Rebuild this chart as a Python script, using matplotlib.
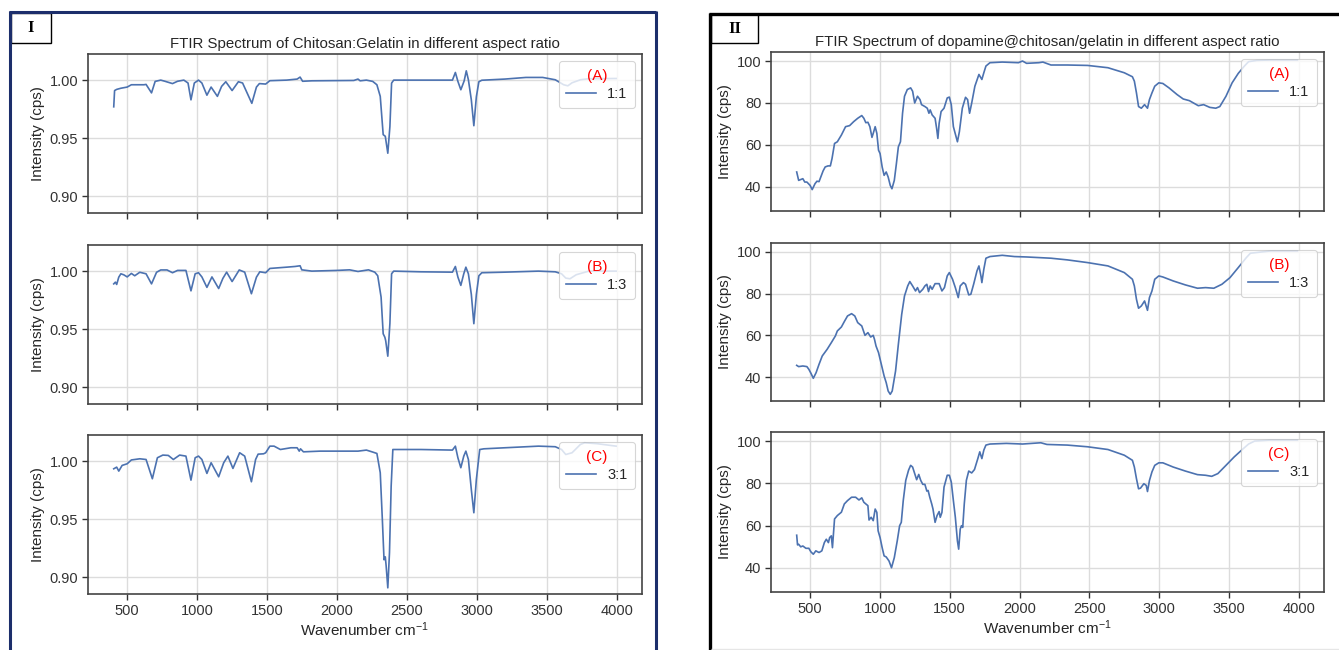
import matplotlib
matplotlib.use("Agg")
import matplotlib.pyplot as plt
from matplotlib.patches import Rectangle
from matplotlib.lines import Line2D

# ---------------- data ----------------
wavenumber_ticks = [500, 1000, 1500, 2000, 2500, 3000, 3500, 4000]
left_yticks = [0.90, 0.95, 1.00]
right_yticks = [40, 60, 80, 100]
ratio_labels = ["1:1", "1:3", "3:1"]
panel_tags = ["(A)", "(B)", "(C)"]

# Panel I : Chitosan:Gelatin
cg_A_wn = [404, 410, 425, 455, 500, 530, 620, 635, 674, 700, 740, 770, 824, 860, 905, 935, 956, 980, 1010, 1034,
           1070, 1100, 1145, 1175, 1205, 1250, 1295, 1325, 1391, 1424, 1445, 1490, 1520, 1640, 1715, 1736, 1754,
           1820, 2120, 2135, 2150, 2165, 2210, 2255, 2285, 2309, 2330, 2345, 2363, 2378, 2390, 2405, 2600, 2825,
           2846, 2864, 2885, 2909, 2924, 2939, 2960, 2978, 2996, 3014, 3035, 3200, 3350, 3470, 3560, 3620, 3650,
           3680, 3740, 3800, 3995]
cg_A_int = [0.977, 0.991, 0.992, 0.993, 0.994, 0.996, 0.996, 0.9963, 0.989, 0.9989, 1.000, 0.999, 0.997, 0.999,
            1.000, 0.9975, 0.983, 0.9975, 1.000, 0.9975, 0.987, 0.994, 0.986, 0.9946, 0.9986, 0.991, 0.9986,
            0.9975, 0.980, 0.994, 0.997, 0.9966, 0.9995, 1.000, 1.0009, 1.0026, 0.999, 0.9994, 0.9997, 1.0003,
            1.0009, 0.9994, 1.000, 0.9989, 0.996, 0.986, 0.953, 0.9516, 0.937, 0.960, 0.9974, 1.000, 1.000, 1.000,
            1.0066, 0.9989, 0.9917, 0.9994, 1.008, 1.0003, 0.983, 0.9607, 0.9857, 0.9986, 0.9999, 1.0009, 1.0023,
            1.0023, 1.0003, 0.996, 0.9951, 0.9977, 1.0003, 1.0012, 1.0014]

cg_B_wn = [404, 416, 425, 440, 455, 476, 500, 530, 554, 590, 635, 674, 710, 740, 785, 824, 860, 920, 956, 986,
           1010, 1034, 1070, 1106, 1154, 1184, 1211, 1250, 1301, 1340, 1388, 1424, 1448, 1490, 1520, 1640, 1700,
           1736, 1748, 1820, 2000, 2090, 2150, 2225, 2270, 2291, 2315, 2330, 2342, 2348, 2363, 2378, 2390, 2405,
           2600, 2825, 2846, 2864, 2885, 2906, 2921, 2939, 2960, 2978, 2996, 3014, 3035, 3200, 3440, 3560, 3605,
           3635, 3665, 3710, 3800, 3995]
cg_B_int = [0.989, 0.9905, 0.9885, 0.9948, 0.9977, 0.9968, 0.995, 0.998, 0.996, 0.999, 0.9977, 0.989, 0.999,
            1.001, 1.001, 0.9986, 1.0006, 1.0006, 0.983, 0.9977, 0.9986, 0.995, 0.986, 0.995, 0.985, 0.9937,
            0.9991, 0.991, 1.001, 0.9991, 0.9805, 0.9948, 0.9994, 0.9986, 1.0023, 1.0034, 1.004, 1.0046, 1.0011,
            1.000, 1.0006, 1.0011, 0.9997, 1.0011, 0.9991, 0.996, 0.9776, 0.946, 0.943, 0.940, 0.9267, 0.955,
            0.9977, 1.000, 0.9994, 0.9991, 1.004, 0.9949, 0.9877, 0.9977, 1.0034, 0.9977, 0.980, 0.9547, 0.980,
            0.996, 0.9986, 0.9991, 1.000, 0.9994, 0.9977, 0.994, 0.9934, 0.9969, 1.000, 1.000]

cg_C_wn = [404, 425, 440, 464, 500, 530, 590, 635, 680, 716, 755, 794, 830, 875, 920, 956, 986, 1010, 1034, 1070,
           1100, 1154, 1190, 1220, 1256, 1304, 1340, 1388, 1418, 1436, 1475, 1490, 1520, 1550, 1595, 1670, 1715,
           1730, 1739, 1760, 1880, 2150, 2210, 2255, 2285, 2309, 2324, 2336, 2345, 2351, 2363, 2375, 2387, 2399,
           2600, 2825, 2846, 2864, 2885, 2906, 2921, 2939, 2960, 2978, 2996, 3020, 3050, 3200, 3440, 3560, 3605,
           3635, 3680, 3740, 3770, 3860, 3995]
cg_C_int = [0.9934, 0.9948, 0.9914, 0.9963, 0.9977, 1.001, 1.002, 1.0014, 0.9848, 1.0029, 1.0052, 1.0049,
            1.0014, 1.0052, 1.0043, 0.9836, 1.0029, 1.0043, 1.0014, 0.9894, 0.9986, 0.9865, 0.9986, 1.0043,
            0.9937, 1.0072, 1.0043, 0.9822, 1.0014, 1.006, 1.0063, 1.0072, 1.0129, 1.0129, 1.010, 1.0115, 1.0115,
            1.0086, 1.0106, 1.008, 1.0086, 1.0086, 1.0095, 1.0078, 1.0066, 0.990, 0.9497, 0.915, 0.9175, 0.910,
            0.8908, 0.921, 0.9784, 1.010, 1.010, 1.0095, 1.0129, 1.0029, 0.9943, 1.0043, 1.0086, 1.0014, 0.9755,
            0.9555, 0.9842, 1.010, 1.0106, 1.0115, 1.0129, 1.0124, 1.010, 1.0057, 1.0072, 1.0144, 1.0158, 1.015,
            1.0129]

# Panel II : dopamine@chitosan/gelatin
dcg_A_wn = [404, 418, 433, 448, 462, 477, 500, 515, 535, 549, 564, 593, 608, 628, 645, 657, 675, 695, 724, 754,
            783, 812, 841, 870, 885, 899, 914, 928, 943, 952, 966, 978, 990, 1001, 1016, 1030, 1045, 1059, 1074,
            1086, 1103, 1118, 1132, 1147, 1162, 1176, 1196, 1220, 1234, 1249, 1269, 1287, 1298, 1322, 1339, 1351,
            1360, 1374, 1395, 1406, 1415, 1424, 1438, 1459, 1482, 1497, 1511, 1526, 1555, 1569, 1590, 1613, 1628,
            1642, 1657, 1680, 1709, 1730, 1744, 1759, 1788, 1876, 1992, 2021, 2050, 2138, 2167, 2225, 2342, 2487,
            2633, 2750, 2808, 2822, 2837, 2852, 2872, 2895, 2916, 2930, 2948, 2968, 2997, 3026, 3070, 3128, 3172,
            3216, 3280, 3318, 3362, 3405, 3434, 3478, 3522, 3566, 3610, 3640, 3700, 3802, 3990]
dcg_A_int = [47.1, 43.1, 43.5, 43.9, 42.3, 42.3, 40.7, 38.7, 41.5, 42.7, 42.5, 47.6, 49.5, 50.0, 50.0, 53.5,
             60.7, 61.5, 64.7, 68.7, 69.2, 71.1, 72.7, 74.0, 72.7, 70.6, 70.8, 68.7, 63.6, 65.5, 68.7, 65.5,
             57.5, 55.9, 49.5, 45.5, 47.1, 44.7, 40.7, 39.1, 43.1, 51.1, 59.1, 61.5, 75.1, 83.2, 86.4, 87.2, 85.6,
             80.0, 83.2, 81.6, 79.2, 78.3, 77.5, 75.1, 76.7, 74.3, 72.7, 67.9, 63.1, 70.3, 75.9, 77.5, 82.4, 82.8,
             79.2, 68.7, 61.5, 66.3, 77.5, 82.7, 81.6, 75.1, 79.9, 88.0, 93.6, 91.2, 94.4, 97.6, 99.2, 99.5, 99.2,
             100.0, 98.9, 99.2, 99.5, 98.1, 98.1, 97.9, 96.8, 94.4, 92.5, 90.4, 84.8, 78.3, 77.5, 79.2, 77.5, 81.6,
             84.8, 88.0, 89.6, 89.3, 87.2, 84.0, 81.9, 81.1, 78.7, 79.2, 77.9, 77.5, 78.3, 83.2, 89.6, 94.1, 97.6,
             99.7, 100.3, 100.5, 100.5]

dcg_B_wn = [404, 418, 448, 477, 491, 506, 523, 543, 564, 587, 622, 652, 681, 695, 724, 745, 768, 797, 820, 841,
            870, 893, 914, 934, 952, 961, 972, 990, 1010, 1030, 1045, 1059, 1074, 1088, 1112, 1132, 1156, 1176,
            1199, 1214, 1234, 1255, 1269, 1284, 1307, 1322, 1336, 1348, 1360, 1374, 1395, 1424, 1444, 1462, 1482,
            1497, 1520, 1540, 1561, 1575, 1598, 1613, 1636, 1651, 1671, 1695, 1709, 1724, 1730, 1744, 1759, 1788,
            1876, 1963, 2050, 2138, 2225, 2342, 2487, 2633, 2750, 2808, 2822, 2837, 2852, 2872, 2895, 2916, 2930,
            2948, 2968, 2997, 3026, 3100, 3187, 3274, 3332, 3391, 3449, 3507, 3566, 3624, 3653, 3800, 3990]
dcg_B_int = [45.6, 45.0, 45.3, 45.0, 43.7, 41.8, 39.4, 42.1, 46.1, 50.1, 53.3, 56.5, 59.7, 62.1, 64.0, 66.6,
             69.3, 70.4, 69.3, 66.1, 64.5, 60.0, 61.3, 59.2, 60.0, 58.1, 54.9, 51.7, 46.1, 40.5, 37.3, 33.3, 31.7,
             33.3, 42.9, 55.7, 70.1, 78.9, 83.7, 85.8, 83.7, 81.3, 82.9, 80.5, 82.1, 83.7, 84.5, 81.0, 83.7, 82.1,
             84.8, 84.8, 81.3, 82.9, 88.5, 90.1, 86.9, 82.9, 78.1, 83.7, 85.3, 84.5, 79.4, 79.7, 84.5, 90.9, 93.3,
             88.2, 85.3, 91.7, 97.0, 97.8, 98.4, 97.8, 97.6, 97.3, 97.0, 96.2, 94.9, 93.3, 90.1, 86.9, 83.7, 77.3,
             73.0, 74.1, 76.5, 72.0, 78.1, 81.3, 86.9, 88.5, 88.0, 86.1, 84.2, 82.6, 82.9, 82.6, 84.5, 87.7, 92.5,
             97.3, 99.4, 100.5, 100.5]

dcg_C_wn = [404, 410, 418, 433, 448, 470, 491, 506, 523, 541, 564, 584, 602, 616, 631, 640, 652, 660, 675, 695,
            724, 745, 768, 797, 826, 850, 870, 885, 914, 922, 937, 952, 966, 978, 987, 1001, 1016, 1030, 1045, 1065,
            1083, 1103, 1124, 1141, 1153, 1167, 1185, 1205, 1220, 1234, 1249, 1263, 1278, 1292, 1307, 1322, 1336,
            1345, 1357, 1371, 1380, 1395, 1409, 1424, 1432, 1444, 1459, 1482, 1497, 1511, 1526, 1540, 1555, 1564,
            1575, 1584, 1593, 1604, 1619, 1636, 1657, 1677, 1701, 1715, 1730, 1744, 1759, 1788, 1905, 2021, 2152,
            2196, 2342, 2487, 2633, 2750, 2808, 2822, 2837, 2852, 2866, 2890, 2907, 2916, 2930, 2948, 2968, 2997,
            3026, 3100, 3187, 3274, 3332, 3376, 3420, 3478, 3537, 3595, 3640, 3683, 3800, 3990]
dcg_C_int = [55.4, 50.8, 51.1, 49.9, 50.3, 49.2, 49.2, 47.5, 46.4, 48.0, 47.2, 48.0, 51.9, 53.5, 51.9, 54.3, 55.1,
             49.5, 63.1, 64.7, 66.3, 70.2, 71.8, 73.4, 73.4, 72.1, 73.1, 71.0, 69.4, 62.6, 63.9, 62.3, 67.8, 66.2,
             57.5, 54.3, 49.5, 45.6, 45.1, 43.2, 40.0, 44.8, 52.7, 59.9, 61.5, 71.8, 81.4, 86.2, 88.5, 87.7, 84.6,
             81.7, 84.2, 81.4, 79.5, 79.5, 76.3, 76.6, 73.4, 70.2, 67.8, 61.5, 64.7, 66.6, 63.9, 66.2, 78.2, 83.8,
             83.8, 80.6, 71.8, 63.9, 52.7, 48.8, 58.3, 59.9, 59.1, 70.2, 81.4, 85.8, 84.9, 86.5, 91.7, 94.9, 91.7,
             95.7, 98.1, 98.6, 98.9, 98.6, 99.2, 98.4, 98.1, 97.3, 96.0, 93.3, 90.9, 87.7, 82.2, 77.4, 77.7, 79.8,
             79.0, 76.1, 81.3, 85.4, 88.5, 89.7, 89.7, 87.7, 85.8, 84.1, 83.8, 83.3, 84.6, 88.5, 92.5, 96.0, 98.6,
             100.0, 100.5, 100.5]

left_series = [(cg_A_wn, cg_A_int), (cg_B_wn, cg_B_int), (cg_C_wn, cg_C_int)]
right_series = [(dcg_A_wn, dcg_A_int), (dcg_B_wn, dcg_B_int), (dcg_C_wn, dcg_C_int)]
left_title = "FTIR Spectrum of Chitosan:Gelatin in different aspect ratio"
right_title = "FTIR Spectrum of dopamine@chitosan/gelatin in different aspect ratio"

# ---------------- style ----------------
W, H = 1339, 650
plt.rcParams.update({
    "font.family": ["Liberation Sans", "DejaVu Sans"],
    "mathtext.fontset": "custom",
    "mathtext.rm": "Liberation Sans",
    "mathtext.it": "Liberation Sans:italic",
    "text.color": "#262626",
    "axes.labelcolor": "#262626",
    "xtick.color": "#333333",
    "ytick.color": "#333333",
    "axes.edgecolor": "#444444",
    "axes.linewidth": 1.2,
})
LINE = "#4c72b0"

fig = plt.figure(figsize=(W / 100, H / 100), dpi=100)


def px_axes(x0, y0, x1, y1, **kw):
    return fig.add_axes([x0 / W, 1 - y1 / H, (x1 - x0) / W, (y1 - y0) / H], **kw)


def style_axes(ax, yticks, show_x):
    ax.set_xticks(wavenumber_ticks)
    ax.set_yticks(yticks)
    ax.grid(True, color="#dcdcdc", linewidth=1.0)
    ax.set_axisbelow(True)
    ax.tick_params(axis="both", labelsize=10.5, length=4, width=1.0, pad=3)
    ax.tick_params(axis="x", labelbottom=show_x)
    ax.set_ylabel("Intensity (cps)", fontsize=11, labelpad=3)


left_rows = [(54, 213), (245, 404), (435, 594)]
right_rows = [(52, 211), (243, 401), (432, 592)]

# Left column
axL = []
for i, (y0, y1) in enumerate(left_rows):
    kw = {} if i == 0 else {"sharex": axL[0], "sharey": axL[0]}
    ax = px_axes(88, y0, 642, y1, **kw)
    wn, val = left_series[i]
    ax.plot(wn, val, color=LINE, lw=1.2, label=ratio_labels[i])
    axL.append(ax)
for i, ax in enumerate(axL):
    style_axes(ax, left_yticks, i == 2)
    ax.set_yticklabels([f"{v:.2f}" for v in left_yticks])
axL[0].set_xlim(220, 4180)
axL[0].set_ylim(0.8855, 1.0225)

# Right column
axR = []
for i, (y0, y1) in enumerate(right_rows):
    kw = {} if i == 0 else {"sharex": axR[0], "sharey": axR[0]}
    ax = px_axes(771, y0, 1324, y1, **kw)
    wn, val = right_series[i]
    ax.plot(wn, val, color=LINE, lw=1.2, label=ratio_labels[i])
    axR.append(ax)
for i, ax in enumerate(axR):
    style_axes(ax, right_yticks, i == 2)
axR[0].set_xlim(220, 4180)
axR[0].set_ylim(28.5, 104.3)

for axes in (axL, axR):
    for i, ax in enumerate(axes):
        leg = ax.legend(loc="upper right", title=panel_tags[i], fontsize=10.5, title_fontsize=11,
                        framealpha=0.8, edgecolor="#cccccc", borderpad=0.5, labelspacing=0.3)
        leg.get_title().set_color("red")
        leg.get_frame().set_linewidth(0.8)

axL[0].set_title(left_title, fontsize=10.8, pad=4)
axR[0].set_title(right_title, fontsize=10.8, pad=4)
axL[2].set_xlabel("Wavenumber cm$^{-1}$", fontsize=11, labelpad=2)
axR[2].set_xlabel("Wavenumber cm$^{-1}$", fontsize=11, labelpad=2)

# ---------------- panel frames and tags ----------------
def fig_line(xs, ys, color, lw):
    fig.add_artist(Line2D([x / W for x in xs], [1 - y / H for y in ys], color=color, lw=lw,
                          solid_capstyle="butt"))

navy = "#1c2e6b"
fig_line([9.5, 9.5], [11, 652], navy, 2.2)
fig_line([8.5, 656], [11.5, 11.5], navy, 2.2)
fig_line([655.5, 655.5], [11, 652], navy, 2.2)

fig_line([709.5, 709.5], [13, 652], "black", 2.4)
fig_line([708.5, 1339], [13.5, 13.5], "black", 2.4)
fig_line([711, 1339], [648.5, 648.5], "#e6e6e6", 1.0)


def tag_box(x0, y0, x1, y1, text):
    fig.add_artist(Rectangle((x0 / W, 1 - y1 / H), (x1 - x0) / W, (y1 - y0) / H,
                             transform=fig.transFigure, facecolor="white", edgecolor="black", lw=1.0))
    fig.text((x0 + x1) / 2 / W, 1 - (y0 + y1) / 2 / H, text, ha="center", va="center",
             fontsize=12, fontweight="bold", family=["Liberation Serif", "DejaVu Serif"], color="black")


tag_box(10.5, 13, 51, 43, "I")
tag_box(711, 14.5, 758, 43, "II")

fig.savefig("out.png", dpi=100)
